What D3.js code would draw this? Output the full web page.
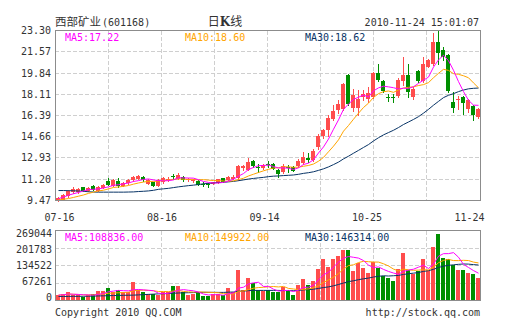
<!DOCTYPE html>
<html><head><meta charset="utf-8">
<script src="https://cdn.jsdelivr.net/npm/d3@7"></script>
<style>body{margin:0;background:#fff}svg{display:block}</style>
</head><body><svg id="c" width="505" height="330"></svg>
<script>
// ---------- data ----------
const openP = [9.50,9.52,9.80,10.15,10.15,10.55,10.28,10.64,10.28,10.50,
11.02,10.69,11.04,10.69,10.91,11.10,11.23,11.42,10.83,10.96,
10.69,10.96,11.15,11.44,11.23,11.42,11.10,11.02,11.04,10.85,
10.78,10.83,10.91,11.26,11.15,11.23,11.31,12.10,11.99,12.72,
12.20,12.10,12.45,12.40,11.99,11.78,12.18,12.18,12.24,12.51,
12.94,12.75,13.80,14.68,15.17,16.11,16.85,16.93,19.64,17.01,
17.01,17.93,17.71,17.88,19.83,19.23,17.90,17.90,17.96,19.23,
19.64,17.88,19.99,19.23,20.37,20.59,22.35,21.73,21.27,17.47,
17.61,17.93,16.93,17.12,16.25];
const highP = [9.72,10.00,10.35,10.55,10.50,10.60,10.60,10.70,10.62,10.85,
11.30,11.20,11.30,11.00,11.20,11.50,11.55,11.50,11.20,11.00,
11.20,11.37,11.37,11.59,11.70,11.45,11.30,11.25,11.10,10.96,
10.91,11.00,11.25,11.30,11.50,11.55,12.32,12.35,12.91,12.80,
12.40,12.40,12.70,12.50,12.05,12.45,12.35,12.30,12.86,13.40,
13.32,13.65,14.85,15.30,16.39,17.20,17.61,19.05,19.75,18.55,
18.42,18.42,18.69,19.91,20.59,19.30,18.15,18.10,19.40,21.13,
20.59,18.69,20.10,21.13,21.00,23.08,23.30,21.95,21.35,18.28,
18.01,18.01,17.74,17.20,17.00];
const lowP = [9.47,9.50,9.78,10.12,10.10,10.25,10.25,10.30,10.25,10.45,
10.72,10.65,10.55,10.65,10.85,11.05,11.20,11.05,10.80,10.65,
10.65,10.90,11.04,11.23,11.20,11.05,11.05,10.98,10.72,10.61,
10.55,10.80,10.88,10.95,11.10,11.20,11.15,11.95,11.95,12.20,
11.78,12.00,12.18,12.00,11.42,11.70,11.80,11.85,12.20,12.45,
12.59,12.68,13.67,14.55,14.68,16.00,16.55,16.85,17.20,16.79,
16.39,17.61,17.47,17.80,19.23,18.30,17.55,17.50,17.90,18.83,
17.88,17.74,19.15,19.15,20.30,20.50,20.59,20.86,18.30,16.66,
16.93,16.52,16.66,15.98,16.20];
const closeP = [9.68,9.93,10.23,10.37,10.42,10.28,10.50,10.34,10.55,10.77,
10.75,11.10,10.61,10.91,11.10,11.37,11.45,11.10,11.10,10.69,
11.15,11.29,11.20,11.40,11.56,11.10,11.23,11.15,10.77,10.83,
10.75,10.96,11.18,10.99,11.42,11.42,12.24,12.24,12.64,12.24,
12.16,12.32,12.40,12.05,11.64,12.24,12.13,11.91,12.72,12.99,
12.80,13.50,14.68,15.17,16.20,16.79,17.30,18.96,17.33,18.09,
17.69,18.15,18.20,19.83,19.29,18.37,17.88,17.86,19.29,19.64,
18.28,18.55,19.23,20.59,20.91,22.35,21.46,21.13,18.37,17.01,
17.74,17.39,17.61,16.39,16.93];
const volume = [20700,23300,31000,20700,20700,14200,20700,25900,36200,36200,
49100,33600,38800,31000,33600,69800,38800,31000,23300,25900,
20700,33600,33600,54300,54300,33600,20700,23300,31000,15500,
15500,25900,23300,20700,46500,31000,116400,40100,85300,67200,
41400,36200,41400,31000,31000,51700,38800,19400,58200,81500,
58200,75000,121600,159100,128000,159100,170700,194000,194000,112500,
143600,124200,106000,146200,125500,95700,85400,75000,120300,183700,
119000,103500,113800,159100,119000,204000,255000,163000,160000,138000,
116000,117000,104000,100000,87000];
// moving-average values before a full window exists
const ma5Head = [9.62,9.75,9.90,10.02];
const ma10Head = [9.52,9.57,9.63,9.72,9.82,9.92,10.05,10.15,10.25];
const ma30Head = [10.28,10.28,10.27,10.26,10.24,10.22,10.18,10.16,10.15,10.15,
10.15,10.15,10.15,10.15,10.16,10.17,10.20,10.22,10.25,10.30,
10.38,10.42,10.46,10.52,10.58,10.63,10.68,10.72,10.77];
const volMa30Head = [15500,15500,15800,16000,16000,16200,16500,17000,17500,18000,
18500,19000,19500,20000,20300,20600,21500,22500,23500,24500,
25500,26000,27000,28000,28800,29500,30000,30500,30800];

const priceTicks = ["9.47","11.20","12.93","14.66","16.39","18.11","19.84","21.57","23.30"];
const volTicks = [0,67261,134522,201783,269044];
const dateLabels = ["07-16","08-16","09-14","10-25","11-24"];
const dateIdx = [0,21,42,63,84];
const stockName = "西部矿业", stockCode = "(601168)", stamp = "2010-11-24 15:01:07";
const priceLegend = ["MA5:17.22","MA10:18.60","MA30:18.62"];
const volLegend = ["MA5:108836.00","MA10:149922.00","MA30:146314.00"];
const footerLeft = "Copyright 2010 QQ.COM", footerRight = "http://stock.qq.com";

// ---------- drawing ----------
const C = {up:"#ff4d4d", down:"#008f00", ma5:"#ff00ff", ma10:"#ffa500", ma30:"#083466",
  grid:"#cfcfcf", frame:"#8c8c8c", text:"#333"};
const mono = "'DejaVu Sans Mono', monospace";
const cjk = "'Noto Sans CJK SC', sans-serif";
const svg = d3.select("#c");
const n = closeP.length;
const L = 55, R = 480, PT = 30.5, PB = 200.5, VT = 230.5, VB = 300.5;

const x = d3.scaleBand().domain(d3.range(n)).range([L, R]).paddingInner(0.2).paddingOuter(0.1);
const xc = i => Math.round(x(i)) + 2.5;
const y = d3.scaleLinear().domain([+priceTicks[0], +priceTicks[priceTicks.length-1]]).range([PB, PT]);
const yv = d3.scaleLinear().domain([0, volTicks[volTicks.length-1]]).range([VB, VT]);
const yvLab = d3.scaleLinear().domain([0, volTicks[volTicks.length-1]]).range([297.5, 233.5]);
const xLab = d3.scaleLinear().domain([0, n-1]).range([59.5, 469.5]);
const snap = v => Math.round(v - 0.5) + 0.5;

function ma(vals, k, head){
  return vals.map((v,i)=> i < k-1 ? (head ? head[i] : d3.mean(vals.slice(0,i+1)))
                                  : d3.mean(vals.slice(i-k+1, i+1)));
}

// grids
const vgrid = d3.range(1,8).map(k => snap(L + k*(R-L)/8));
function grid(top, bottom, ys){
  const g = svg.append("g").attr("stroke", C.grid).attr("stroke-dasharray","4,2").attr("shape-rendering","crispEdges");
  ys.forEach(v => g.append("line").attr("x1",L).attr("x2",R).attr("y1",v).attr("y2",v));
  vgrid.forEach(v => g.append("line").attr("x1",v).attr("x2",v).attr("y1",top).attr("y2",bottom));
}
grid(PT, PB, priceTicks.slice(1,-1).map(t => snap(y(+t))));
grid(VT, VB, volTicks.slice(1,-1).map(t => snap(yv(t))));

// candles
const up = i => closeP[i] >= openP[i];
const cg = svg.append("g").attr("shape-rendering","crispEdges");
d3.range(n).forEach(i => {
  const col = up(i) ? C.up : C.down;
  cg.append("line").attr("x1",xc(i)).attr("x2",xc(i))
    .attr("y1",Math.round(y(highP[i]))).attr("y2",Math.round(y(lowP[i]))+1).attr("stroke",col);
  const t = Math.round(y(Math.max(openP[i],closeP[i]))), b = Math.round(y(Math.min(openP[i],closeP[i])));
  cg.append("rect").attr("x",Math.round(x(i))).attr("width",Math.round(x.bandwidth()))
    .attr("y",t).attr("height",Math.max(1,b-t)).attr("fill",col);
});
// volume bars
const vg = svg.append("g").attr("shape-rendering","crispEdges");
d3.range(n).forEach(i => {
  const t = Math.round(yv(volume[i]));
  vg.append("rect").attr("x",Math.round(x(i))).attr("width",Math.round(x.bandwidth()))
    .attr("y",t).attr("height",Math.round(VB)-t).attr("fill", up(i) ? C.up : C.down);
});

// MA lines
function maLine(vals, ys, col){
  svg.append("path").datum(vals).attr("fill","none").attr("stroke",col).attr("stroke-width",1)
    .attr("d", d3.line().x((d,i)=>xc(i)).y(d=>ys(d)));
}
maLine(ma(closeP,30,ma30Head), y, C.ma30);
maLine(ma(closeP,10,ma10Head), y, C.ma10);
maLine(ma(closeP,5,ma5Head), y, C.ma5);
maLine(ma(volume,30,volMa30Head), yv, C.ma30);
maLine(ma(volume,10), yv, C.ma10);
maLine(ma(volume,5), yv, C.ma5);

// frames
[[PT,PB],[VT,VB]].forEach(([t,b]) => svg.append("rect").attr("x",L+0.5).attr("y",t)
  .attr("width",R-L-1+1).attr("height",b-t).attr("fill","none").attr("stroke",C.frame)
  .attr("shape-rendering","crispEdges"));

// axis labels
const txt = (s, xx, yy, o={}) => svg.append("text").attr("x",xx).attr("y",yy)
  .attr("font-family", o.font || mono).attr("font-size", o.size || 10)
  .attr("fill", o.fill || C.text).attr("text-anchor", o.anchor || "start").text(s);
priceTicks.forEach(t => txt(t, 51, y(+t)+3.5, {anchor:"end"}));
volTicks.forEach(t => txt(String(t), 52, yvLab(t)+3.5, {anchor:"end"}));
dateLabels.forEach((d,k) => txt(d, xLab(dateIdx[k]), 220.5, {anchor:"middle"}));

// legends
const legX = [65,185,305], legCol = [C.ma5, C.ma10, C.ma30];
priceLegend.forEach((s,k) => txt(s, legX[k], 40.5, {fill:legCol[k]}));
volLegend.forEach((s,k) => txt(s, legX[k], 240.5, {fill:legCol[k]}));

// header
txt(stockName, 55, 26, {font:cjk, size:11.5});
txt(stockCode, 102, 25.5);
const h = svg.append("text").attr("x",225).attr("y",26).attr("text-anchor","middle")
  .attr("font-family",cjk).attr("font-size",12).attr("fill",C.text);
h.append("tspan").text("日");
h.append("tspan").attr("font-weight","bold").attr("font-family","'DejaVu Serif', serif").text("K");
h.append("tspan").text("线");
txt(stamp, 479, 25.5, {anchor:"end"});
txt(footerLeft, 55, 315.5);
txt(footerRight, 480, 315.5, {anchor:"end"});
</script></body></html>
